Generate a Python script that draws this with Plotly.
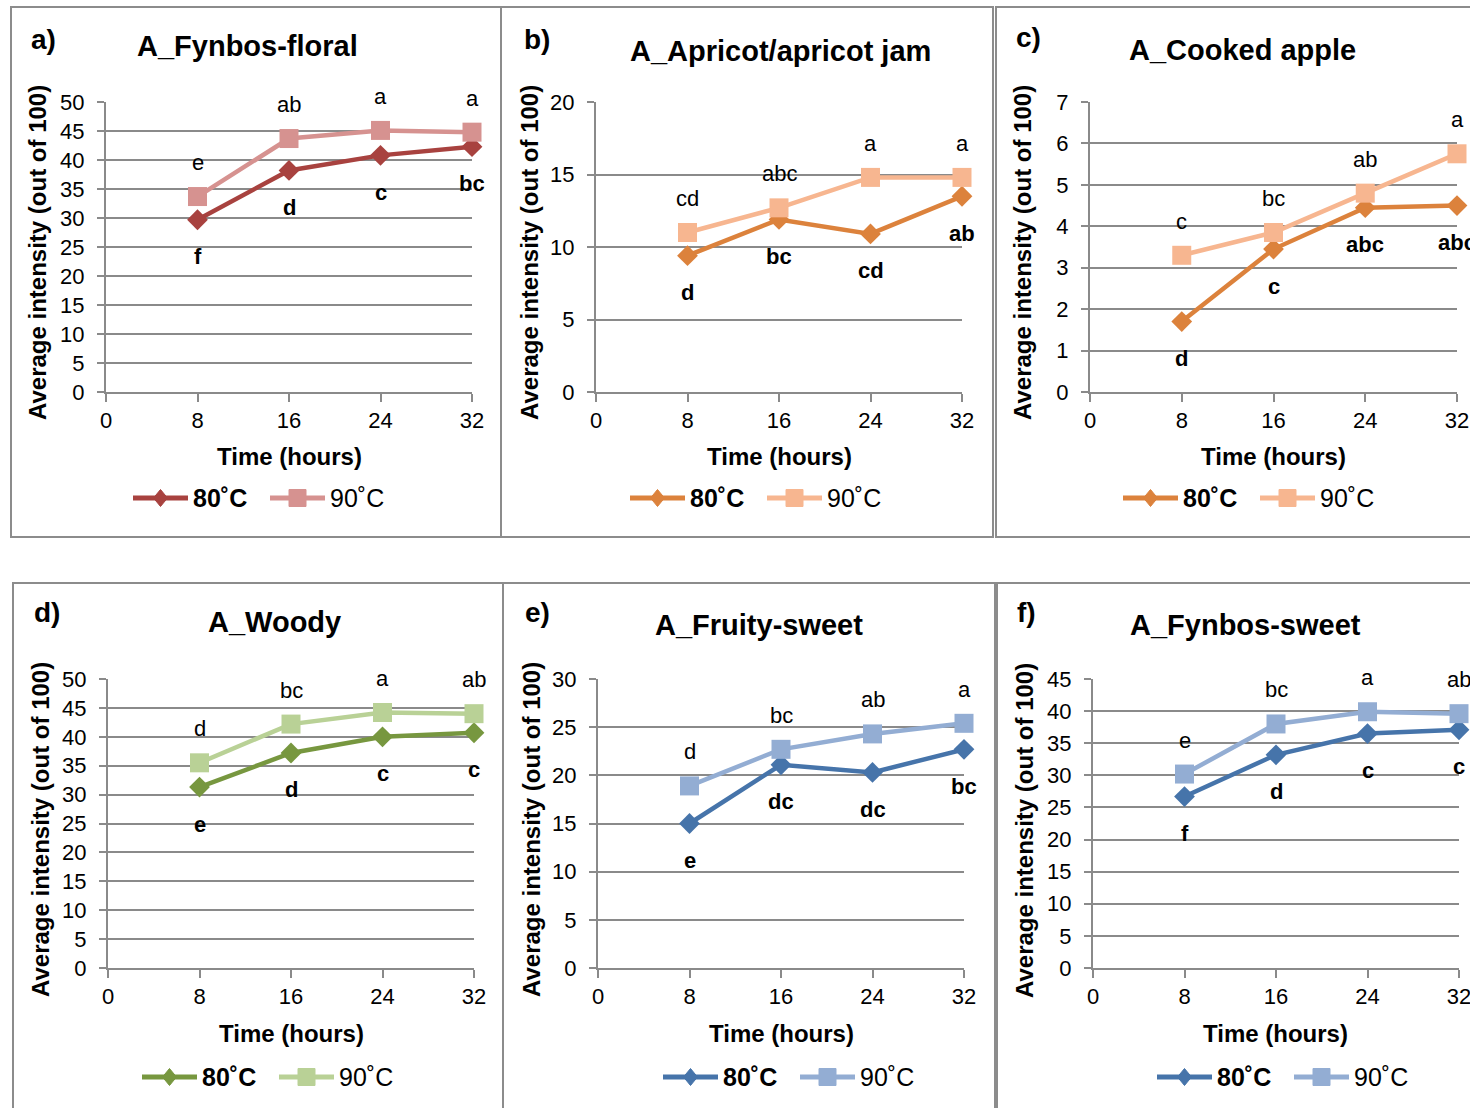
import plotly.graph_objects as go

W, H = 1470, 1108
FONT = "Liberation Sans, Arial, sans-serif"

# ---------------- data ----------------
times = [0, 8, 16, 24, 32]  # x tick labels (hours)
hours = [8, 16, 24, 32]

fynbos_floral_80 = [29.7, 38.2, 40.8, 42.3]
fynbos_floral_90 = [33.7, 43.7, 45.1, 44.8]
fynbos_floral_80_letters = ["f", "d", "c", "bc"]
fynbos_floral_90_letters = ["e", "ab", "a", "a"]

apricot_80 = [9.4, 11.9, 10.9, 13.5]
apricot_90 = [11.0, 12.7, 14.8, 14.8]
apricot_80_letters = ["d", "bc", "cd", "ab"]
apricot_90_letters = ["cd", "abc", "a", "a"]

cooked_apple_80 = [1.7, 3.45, 4.45, 4.5]
cooked_apple_90 = [3.3, 3.85, 4.8, 5.75]
cooked_apple_80_letters = ["d", "c", "abc", "abc"]
cooked_apple_90_letters = ["c", "bc", "ab", "a"]

woody_80 = [31.3, 37.2, 40.0, 40.7]
woody_90 = [35.5, 42.2, 44.2, 44.0]
woody_80_letters = ["e", "d", "c", "c"]
woody_90_letters = ["d", "bc", "a", "ab"]

fruity_sweet_80 = [15.0, 21.1, 20.3, 22.7]
fruity_sweet_90 = [18.9, 22.7, 24.3, 25.4]
fruity_sweet_80_letters = ["e", "dc", "dc", "bc"]
fruity_sweet_90_letters = ["d", "bc", "ab", "a"]

fynbos_sweet_80 = [26.7, 33.2, 36.5, 37.1]
fynbos_sweet_90 = [30.2, 38.0, 39.9, 39.6]
fynbos_sweet_80_letters = ["f", "d", "c", "c"]
fynbos_sweet_90_letters = ["e", "bc", "a", "ab"]

panel_letters = ["a)", "b)", "c)", "d)", "e)", "f)"]
panel_titles = ["A_Fynbos-floral", "A_Apricot/apricot jam", "A_Cooked apple",
                "A_Woody", "A_Fruity-sweet", "A_Fynbos-sweet"]
y_max = [50, 20, 7, 50, 30, 45]
y_step = [5, 5, 1, 5, 5, 5]
series_names = ["80˚C", "90˚C"]

# ---------------- style / layout ----------------
colors = [
    ("#A8423F", "#D69290"),
    ("#DC823C", "#F7B690"),
    ("#DC823C", "#F7B690"),
    ("#77973F", "#B9D196"),
    ("#4674AA", "#93ADD3"),
    ("#4674AA", "#93ADD3"),
]
# plot areas in pixels: (x_left, x_right, y_top, y_bottom)
plot_px = [
    (106, 472, 102, 392),
    (596, 962, 102, 392),
    (1090, 1457, 102, 392),
    (108, 474, 679, 968),
    (598, 964, 679, 968),
    (1093, 1459, 679, 968),
]
# panel borders
border_px = [
    (11, 501, 7, 537),
    (501, 993, 7, 537),
    (996, 1480, 7, 537),
    (13, 503, 583, 1120),
    (503, 995, 583, 1120),
    (997, 1480, 583, 1120),
]
letter_pos = [(43, 40), (537, 39), (1028, 37), (47, 612), (537, 612), (1026, 612)]
title_pos = [(248, 46), (780, 51), (1242, 50), (274, 622), (759, 625), (1245, 625)]
ytitle_pos = [(37, 253), (529, 253), (1022, 253), (40, 830), (531, 830), (1024, 830)]
xtitle_pos = [(289, 456), (779, 456), (1273, 456), (291, 1033), (781, 1033), (1275, 1033)]
legend_start = [(133, 498), (630, 498), (1123, 498), (142, 1077), (663, 1077), (1157, 1077)]

data80 = [fynbos_floral_80, apricot_80, cooked_apple_80, woody_80, fruity_sweet_80, fynbos_sweet_80]
data90 = [fynbos_floral_90, apricot_90, cooked_apple_90, woody_90, fruity_sweet_90, fynbos_sweet_90]
let80 = [fynbos_floral_80_letters, apricot_80_letters, cooked_apple_80_letters,
         woody_80_letters, fruity_sweet_80_letters, fynbos_sweet_80_letters]
let90 = [fynbos_floral_90_letters, apricot_90_letters, cooked_apple_90_letters,
         woody_90_letters, fruity_sweet_90_letters, fynbos_sweet_90_letters]

GRID = "#8A8A8A"


def px(x):
    return x / W


def py(y):
    return 1 - y / H


fig = go.Figure()
annotations = []
shapes = []
layout = {}


def legend_item(x0, yc, color, symbol, label, bold):
    """Excel-style legend entry: long line sample with a marker, then text."""
    line_len = 55
    shapes.append(dict(type="line", xref="paper", yref="paper",
                       x0=px(x0), x1=px(x0 + line_len), y0=py(yc), y1=py(yc),
                       line=dict(color=color, width=5)))
    mx = x0 + line_len / 2
    if symbol == "diamond":
        hw, hh = 7, 8.5
        path = (f"M {px(mx - hw)} {py(yc)} L {px(mx)} {py(yc - hh)} "
                f"L {px(mx + hw)} {py(yc)} L {px(mx)} {py(yc + hh)} Z")
        shapes.append(dict(type="path", xref="paper", yref="paper", path=path,
                           fillcolor=color, line=dict(color=color, width=1)))
    else:
        hs = 8.5
        shapes.append(dict(type="rect", xref="paper", yref="paper",
                           x0=px(mx - hs), x1=px(mx + hs), y0=py(yc + hs), y1=py(yc - hs),
                           fillcolor=color, line=dict(color=color, width=1)))
    annotations.append(dict(x=px(x0 + line_len + 3), y=py(yc), xref="paper", yref="paper",
                            text=("<b>" + label + "</b>") if bold else label,
                            showarrow=False, xanchor="left", yanchor="middle",
                            font=dict(family=FONT, size=25, color="#000000")))


for i in range(6):
    n = "" if i == 0 else str(i + 1)
    xa, ya = "x" + n, "y" + n
    c80, c90 = colors[i]

    fig.add_trace(go.Scatter(
        x=hours, y=data80[i], name=series_names[0], showlegend=False,
        mode="lines+markers", xaxis=xa, yaxis=ya, cliponaxis=False,
        line=dict(color=c80, width=4.5),
        marker=dict(symbol="diamond", size=16, color=c80),
    ))
    fig.add_trace(go.Scatter(
        x=hours, y=data90[i], name=series_names[1], showlegend=False,
        mode="lines+markers", xaxis=xa, yaxis=ya, cliponaxis=False,
        line=dict(color=c90, width=4.5),
        marker=dict(symbol="square", size=19, color=c90),
    ))

    xl, xr, yt, yb = plot_px[i]
    layout["xaxis" + n] = dict(
        domain=[px(xl), px(xr)], anchor=ya, range=[0, 32], automargin=False,
        tickvals=times, ticktext=[str(t) for t in times],
        showgrid=False, zeroline=False, showline=True, linecolor=GRID, linewidth=2,
        ticks="outside", ticklen=8, tickwidth=2, tickcolor=GRID,
        ticklabelstandoff=0, ticklabeloverflow="allow",
        tickfont=dict(family=FONT, size=22, color="#000000"),
        fixedrange=True,
    )
    layout["yaxis" + n] = dict(
        domain=[py(yb), py(yt)], anchor=xa, range=[0, y_max[i]], dtick=y_step[i],
        tick0=0, showgrid=True, gridcolor=GRID, gridwidth=2, automargin=False,
        zeroline=False, showline=True, linecolor=GRID, linewidth=2,
        ticks="outside", ticklen=7, tickwidth=2, tickcolor=GRID,
        ticklabelstandoff=8,
        tickfont=dict(family=FONT, size=22, color="#000000"),
        fixedrange=True,
    )

    # legend (Excel style)
    lx, ly = legend_start[i]
    legend_item(lx, ly, c80, "diamond", series_names[0], True)
    legend_item(lx + 137, ly, c90, "square", series_names[1], False)

    # significance letters
    for t, v, s in zip(hours, data90[i], let90[i]):
        annotations.append(dict(
            x=t, y=v, xref=xa, yref=ya, text=s, showarrow=False,
            yshift=34, xanchor="center", yanchor="middle",
            font=dict(family=FONT, size=22, color="#000000"),
        ))
    for t, v, s in zip(hours, data80[i], let80[i]):
        annotations.append(dict(
            x=t, y=v, xref=xa, yref=ya, text="<b>" + s + "</b>", showarrow=False,
            yshift=-37, xanchor="center", yanchor="middle",
            font=dict(family=FONT, size=22, color="#000000"),
        ))

    # panel letter, title, axis titles
    ax_, ay_ = letter_pos[i]
    annotations.append(dict(x=px(ax_), y=py(ay_), xref="paper", yref="paper",
                            text="<b>" + panel_letters[i] + "</b>", showarrow=False,
                            xanchor="center", yanchor="middle",
                            font=dict(family=FONT, size=28, color="#000000")))
    tx, ty = title_pos[i]
    annotations.append(dict(x=px(tx), y=py(ty), xref="paper", yref="paper",
                            text="<b>" + panel_titles[i] + "</b>", showarrow=False,
                            xanchor="center", yanchor="middle",
                            font=dict(family=FONT, size=29, color="#000000")))
    yx, yy = ytitle_pos[i]
    annotations.append(dict(x=px(yx), y=py(yy), xref="paper", yref="paper",
                            text="<b>Average intensity (out of 100)</b>", showarrow=False,
                            textangle=-90, xanchor="center", yanchor="middle",
                            font=dict(family=FONT, size=24, color="#000000")))
    xx, xy = xtitle_pos[i]
    annotations.append(dict(x=px(xx), y=py(xy), xref="paper", yref="paper",
                            text="<b>Time (hours)</b>", showarrow=False,
                            xanchor="center", yanchor="middle",
                            font=dict(family=FONT, size=24, color="#000000")))

    bx0, bx1, by0, by1 = border_px[i]
    shapes.append(dict(type="rect", xref="paper", yref="paper",
                       x0=px(bx0), x1=px(bx1), y0=py(by1), y1=py(by0),
                       line=dict(color="#8C8C8C", width=2), layer="below"))

fig.update_layout(
    width=W, height=H, margin=dict(l=0, r=0, t=0, b=0, autoexpand=False),
    paper_bgcolor="white", plot_bgcolor="white",
    annotations=annotations, shapes=shapes, showlegend=False,
    **layout,
)

fig.write_html(
    "out.html",
    post_script="document.body.style.margin='0';document.body.style.overflow='hidden';",
)
